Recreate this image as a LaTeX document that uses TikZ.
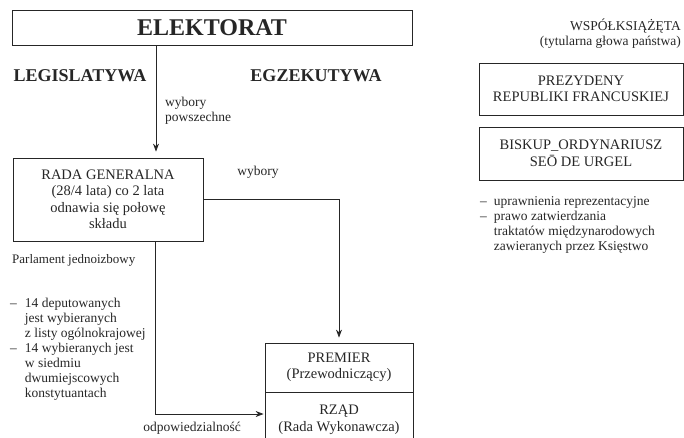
\documentclass[tikz,border=0pt]{standalone}
\usepackage{fontspec}
\setmainfont{Liberation Serif}
\usepackage{xcolor}
\usepackage{tikz}
\usetikzlibrary{positioning,arrows.meta,calc}
\definecolor{ink}{HTML}{262626}

\begin{document}
\begin{tikzpicture}[x=1pt,y=-1pt,
  every node/.style={text=ink,inner sep=0pt},
  box/.style={rectangle,draw=ink,line width=0.8pt,align=center,
    font=\fontsize{14.5}{16.5}\selectfont},
  heading/.style={font=\fontsize{18}{20}\selectfont\bfseries},
  lbl/.style={font=\fontsize{13.5}{15}\selectfont},
  arrow/.style={draw=ink,line width=0.8pt,-{Stealth[length=8pt,width=6pt]}}]
  \useasboundingbox (0,0) rectangle (684,437);

  % legislatywa / egzekutywa
  \node[box,minimum width=400pt,minimum height=35pt,
    font=\fontsize{24}{28}\selectfont\bfseries] (elektorat) at (212,27.5) {ELEKTORAT};
  \node[heading] (legislatywa) at (80,76) {LEGISLATYWA};
  \node[heading] (egzekutywa) at (316,76) {EGZEKUTYWA};

  \node[box,minimum width=190pt,minimum height=83pt] (rada) at (108,199.5)
    {RADA GENERALNA\\(28/4 lata) co 2 lata\\odnawia się połowę\\składu};
  \node[box,minimum width=148pt,minimum height=49pt] (premier) at (339,367.5)
    {PREMIER\\(Przewodniczący)};
  \node[box,minimum width=148pt,minimum height=54pt,
    text height=28pt] (rzad) at (339,419)
    {RZĄD\\(Rada Wykonawcza)};

  \node[lbl,anchor=west,align=left] (powszechne) at (165,111) {wybory\\powszechne};
  \node[lbl] (wybory) at (258,172) {wybory};
  \node[lbl] (odpowiedzialnosc) at (192,428) {odpowiedzialność};
  \node[lbl,font=\fontsize{13}{15}\selectfont,anchor=west] (parlament) at (12,260)
    {Parlament jednoizbowy};
  \node[lbl,anchor=north west] (deputowani) at (10,297) {%
    \begin{tabular}{@{}l@{\hspace{8pt}}l@{}}
      – & 14 deputowanych\\
        & jest wybieranych\\
        & z listy ogólnokrajowej\\
      – & 14 wybieranych jest\\
        & w siedmiu\\
        & dwumiejscowych\\
        & konstytuantach
    \end{tabular}};

  \draw[arrow,shorten >=6pt] ([xshift=48pt]rada.north |- elektorat.south)
    -- ([xshift=48pt]rada.north);
  \draw[arrow,shorten >=5pt] (rada.east) -| (premier.north);
  \draw[arrow,shorten >=1pt] ([xshift=47pt]rada.south) |- ([yshift=5pt]rzad.west);

  % wspolksiazeta
  \node[lbl,anchor=east,align=right] (ksiazeta) at (681,34)
    {WSPÓŁKSIĄŻĘTA\\(tytularna głowa państwa)};
  \node[box,minimum width=204pt,minimum height=52pt] (prezydent) at (581,89)
    {PREZYDENY\\REPUBLIKI FRANCUSKIEJ};
  \node[box,minimum width=204pt,minimum height=53pt] (biskup) at (581,153.5)
    {BISKUP\_ORDYNARIUSZ\\SE\={O} DE URGEL};
  \node[lbl,anchor=north west] (uprawnienia) at (480,195) {%
    \begin{tabular}{@{}l@{\hspace{7pt}}l@{}}
      – & uprawnienia reprezentacyjne\\
      – & prawo zatwierdzania\\
        & traktatów międzynarodowych\\
        & zawieranych przez Księstwo
    \end{tabular}};
\end{tikzpicture}
\end{document}
